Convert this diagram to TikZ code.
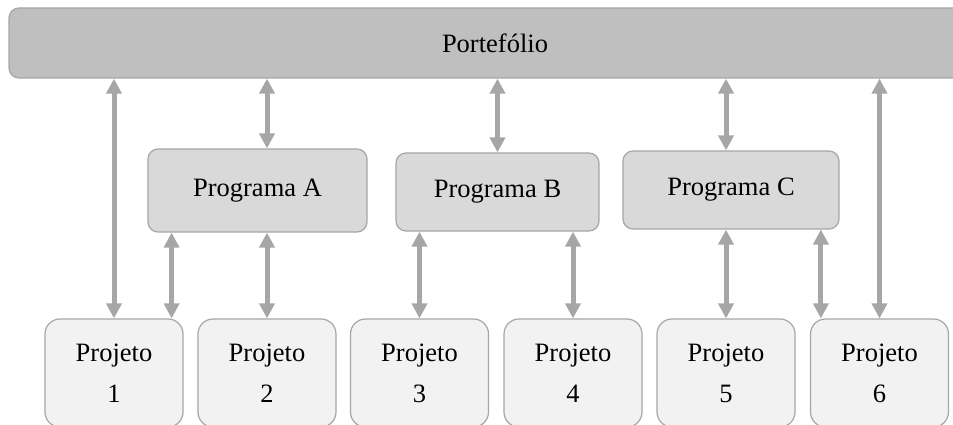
\documentclass[tikz,border=0pt]{standalone}
\usepackage{fontspec}
\setmainfont{Liberation Serif}
\usetikzlibrary{arrows.meta,calc}

\definecolor{portfill}{HTML}{BFBFBF}
\definecolor{progfill}{HTML}{D9D9D9}
\definecolor{projfill}{HTML}{F2F2F2}
\definecolor{edgegray}{HTML}{A6A6A6}
\definecolor{linkgray}{HTML}{A6A6A6}

\tikzset{
  every node/.style={font=\fontsize{26.5}{41}\selectfont, inner sep=0pt},
  portbox/.style={draw=edgegray, line width=1.2pt, fill=portfill, rounded corners=10pt,
    minimum width=972pt, minimum height=70pt},
  progbox/.style={draw=edgegray, line width=1.2pt, fill=progfill, rounded corners=10pt,
    minimum height=78pt},
  projbox/.style={draw=edgegray, line width=1.2pt, fill=projfill, rounded corners=15pt,
    minimum width=138pt, minimum height=108pt, align=center},
  link/.style={draw=linkgray, line width=5pt,
    {Triangle[length=15pt,width=15pt]}-{Triangle[length=15pt,width=15pt]}},
}

\begin{document}
\begin{tikzpicture}[x=1pt, y=-1pt]
  \useasboundingbox (0,0) rectangle (953,425);
  \clip (0,0) rectangle (953,425);

  % top level
  \node[portbox] (port) at (495,43) {Portefólio};

  % programmes
  \node[progbox, minimum width=219pt, minimum height=83pt] (progA) at (257.5,190.5) {Programa A};
  \node[progbox, minimum width=203pt] (progB) at (497.5,192) {Programa B};
  \node[progbox, minimum width=216pt] (progC) at (731,190) {Programa C};

  % projects
  \node[projbox] (p1) at (114,373)   {Projeto\\1};
  \node[projbox] (p2) at (267,373)   {Projeto\\2};
  \node[projbox] (p3) at (419.5,373) {Projeto\\3};
  \node[projbox] (p4) at (573,373)   {Projeto\\4};
  \node[projbox] (p5) at (726,373)   {Projeto\\5};
  \node[projbox] (p6) at (879.5,373) {Projeto\\6};

  % portfolio links
  \draw[link] (port.south -| p1.north) -- (p1.north);
  \draw[link] (port.south -| p2.north) -- (progA.north -| p2.north);
  \draw[link] (port.south -| progB.north) -- (progB.north);
  \draw[link] (port.south -| p5.north) -- (progC.north -| p5.north);
  \draw[link] (port.south -| p6.north) -- (p6.north);

  % programme links
  \coordinate (a1) at ($(p1.north east)+(-12,0)$);
  \draw[link] (progA.south -| a1) -- (a1);
  \draw[link] (progA.south -| p2.north) -- (p2.north);
  \draw[link] (progB.south -| p3.north) -- (p3.north);
  \draw[link] (progB.south -| p4.north) -- (p4.north);
  \draw[link] (progC.south -| p5.north) -- (p5.north);
  \coordinate (c6) at ($(p6.north west)+(11,0)$);
  \draw[link] (progC.south -| c6) -- (c6);
\end{tikzpicture}
\end{document}
